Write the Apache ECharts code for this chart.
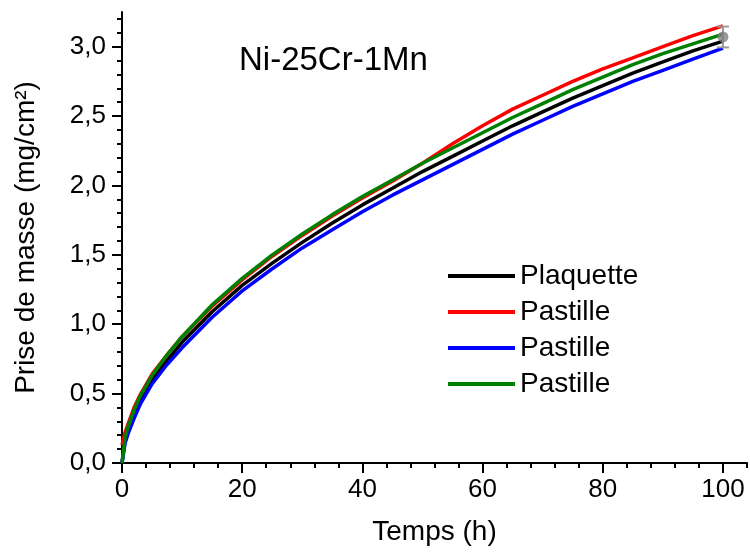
<!DOCTYPE html>
<html>
<head>
<meta charset="utf-8">
<title>Ni-25Cr-1Mn</title>
<script src="https://cdn.jsdelivr.net/npm/echarts@6/dist/echarts.min.js"></script>
<style>
  html, body { margin: 0; padding: 0; background: #fff; }
  #main { width: 750px; height: 552px; }
</style>
</head>
<body>
<div id="main"></div>
<script>
// temps (h)
var temps = [0, 0.5, 1, 2, 3, 5, 7.5, 10, 15, 20, 25, 30, 35, 40, 45, 50, 55, 60, 65, 70, 75, 80, 85, 90, 95, 100];
// prise de masse (mg/cm2)
var plaquette = [0, 0.16, 0.24, 0.35, 0.45, 0.60, 0.74, 0.87, 1.09, 1.28, 1.44, 1.59, 1.73, 1.86, 1.98, 2.10, 2.21, 2.32, 2.43, 2.53, 2.63, 2.72, 2.81, 2.89, 2.97, 3.04];
var pastille1 = [0.13, 0.22, 0.28, 0.40, 0.49, 0.64, 0.78, 0.91, 1.13, 1.32, 1.49, 1.64, 1.78, 1.91, 2.03, 2.16, 2.30, 2.43, 2.55, 2.65, 2.75, 2.84, 2.92, 3.00, 3.08, 3.15];
var pastille2 = [0, 0.14, 0.21, 0.32, 0.42, 0.57, 0.71, 0.83, 1.05, 1.24, 1.40, 1.55, 1.68, 1.81, 1.93, 2.04, 2.15, 2.26, 2.37, 2.47, 2.57, 2.66, 2.75, 2.83, 2.91, 2.99];
var pastille3 = [0, 0.18, 0.26, 0.38, 0.48, 0.63, 0.78, 0.91, 1.14, 1.33, 1.50, 1.65, 1.79, 1.92, 2.04, 2.16, 2.27, 2.38, 2.49, 2.59, 2.69, 2.78, 2.87, 2.95, 3.02, 3.09];
// point moyen avec barre d'erreur : [t, valeur, erreur]
var pointMoyen = [100, 3.07, 0.075];

var noms = ['Plaquette', 'Pastille 1', 'Pastille 2', 'Pastille 3'];
var couleurs = ['#000000', '#ff0000', '#0000ff', '#008000'];
var courbes = [plaquette, pastille1, pastille2, pastille3];

var xMajeurs = [0, 20, 40, 60, 80, 100];
var yMajeurs = [0, 0.5, 1, 1.5, 2, 2.5, 3];
var xMineurs = [];
for (var i = 0; i <= 104; i += 4) xMineurs.push(i);
var yMineurs = [];
for (var j = 0; j <= 32; j++) yMineurs.push(j / 10);

function paires(ys) {
  return temps.map(function (t, k) { return [t, ys[k]]; });
}

var police = 'Liberation Sans, Arial, sans-serif';

var series = courbes.map(function (ys, k) {
  return {
    name: noms[k],
    type: 'line',
    xAxisIndex: 0,
    yAxisIndex: 0,
    data: paires(ys),
    symbol: 'none',
    lineStyle: { color: couleurs[k], width: 3.5, join: 'round' },
    itemStyle: { color: couleurs[k] },
    z: 2 + k
  };
});

series.push({
  name: 'erreur',
  type: 'custom',
  xAxisIndex: 0,
  yAxisIndex: 0,
  data: [pointMoyen],
  z: 10,
  renderItem: function (params, api) {
    var x = api.value(0), y = api.value(1), e = api.value(2);
    var haut = api.coord([x, y + e]);
    var bas = api.coord([x, y - e]);
    var c = 6;
    var st = { stroke: '#9a9a9a', lineWidth: 2 };
    return {
      type: 'group',
      children: [
        { type: 'line', shape: { x1: haut[0], y1: haut[1], x2: bas[0], y2: bas[1] }, style: st },
        { type: 'line', shape: { x1: haut[0] - c, y1: haut[1], x2: haut[0] + c, y2: haut[1] }, style: st },
        { type: 'line', shape: { x1: bas[0] - c, y1: bas[1], x2: bas[0] + c, y2: bas[1] }, style: st }
      ]
    };
  }
});
series.push({
  name: 'moyenne',
  type: 'scatter',
  xAxisIndex: 0,
  yAxisIndex: 0,
  data: [[pointMoyen[0], pointMoyen[1]]],
  symbolSize: 11,
  itemStyle: { color: '#808080' },
  z: 11
});

var option = {
  animation: false,
  title: {
    text: 'Ni-25Cr-1Mn',
    left: 239,
    top: 44,
    padding: 0,
    textStyle: { fontFamily: police, fontSize: 33, fontWeight: 'normal', color: '#000' }
  },
  legend: {
    data: noms,
    orient: 'vertical',
    left: 448,
    top: 262,
    padding: 0,
    itemGap: 8,
    itemWidth: 67,
    itemHeight: 4,
    icon: 'rect',
    formatter: function (n) { return n.replace(/ \d$/, ''); },
    textStyle: { fontFamily: police, fontSize: 28, color: '#000' }
  },
  grid: { left: 122, right: 3, top: 12, bottom: 89, containLabel: false },
  xAxis: [{
    type: 'value',
    min: 0,
    max: 104,
    interval: 20,
    name: 'Temps (h)',
    nameLocation: 'middle',
    nameGap: 55,
    nameTextStyle: { fontFamily: police, fontSize: 28, color: '#000' },
    axisLine: { show: true, lineStyle: { color: '#000', width: 2 } },
    axisTick: { show: true, customValues: xMineurs, length: 5, lineStyle: { color: '#000', width: 2 } },
    axisLabel: { customValues: xMajeurs, margin: 14, fontFamily: police, fontSize: 26, color: '#000' },
    splitLine: { show: false }
  }, {
    type: 'value',
    min: 0,
    max: 104,
    interval: 20,
    position: 'bottom',
    axisLine: { show: false },
    axisTick: { show: true, customValues: xMajeurs, length: 10, lineStyle: { color: '#000', width: 2 } },
    axisLabel: { show: false },
    splitLine: { show: false }
  }],
  yAxis: [{
    type: 'value',
    min: 0,
    max: 3.25,
    interval: 0.5,
    name: 'Prise de masse (mg/cm²)',
    nameLocation: 'middle',
    nameGap: 82,
    nameTextStyle: { fontFamily: police, fontSize: 28, color: '#000' },
    axisLine: { show: true, lineStyle: { color: '#000', width: 2 } },
    axisTick: { show: true, customValues: yMineurs, length: 5, lineStyle: { color: '#000', width: 2 } },
    axisLabel: {
      customValues: yMajeurs,
      margin: 16,
      fontFamily: police,
      fontSize: 26,
      color: '#000',
      formatter: function (v) { return v.toFixed(1).replace('.', ','); }
    },
    splitLine: { show: false }
  }, {
    type: 'value',
    min: 0,
    max: 3.25,
    interval: 0.5,
    position: 'left',
    axisLine: { show: false },
    axisTick: { show: true, customValues: yMajeurs, length: 10, lineStyle: { color: '#000', width: 2 } },
    axisLabel: { show: false },
    splitLine: { show: false }
  }],
  series: series
};

var myChart = echarts.init(document.getElementById('main'));
myChart.setOption(option);
</script>
</body>
</html>
